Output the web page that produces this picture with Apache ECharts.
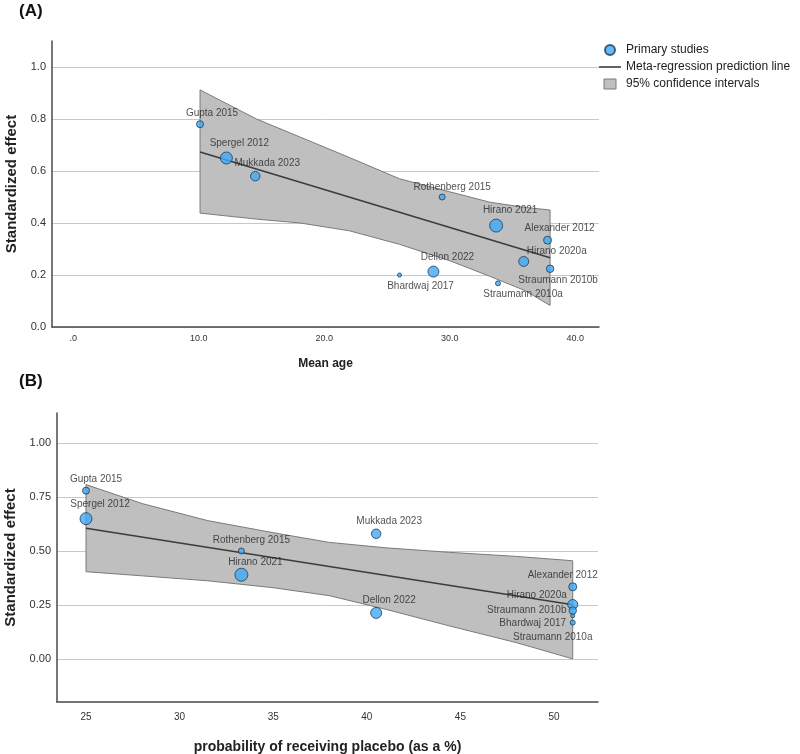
<!DOCTYPE html>
<html>
<head>
<meta charset="utf-8">
<script src="https://cdn.jsdelivr.net/npm/echarts@6/dist/echarts.min.js"></script>
<style>
  html, body { margin: 0; padding: 0; background: #fff; }
  #main { width: 800px; height: 754px; }
</style>
</head>
<body>
<div id="main"></div>
<script>
// study data
var studies = ['Gupta 2015', 'Spergel 2012', 'Mukkada 2023', 'Bhardwaj 2017', 'Rothenberg 2015', 'Hirano 2021',
               'Dellon 2022', 'Alexander 2012', 'Hirano 2020a', 'Straumann 2010b', 'Straumann 2010a'];
var effect = [0.78, 0.65, 0.58, 0.20, 0.50, 0.39, 0.213, 0.334, 0.252, 0.224, 0.168];
var meanAge = [10.1, 12.2, 14.5, 26.0, 29.4, 33.7, 28.7, 37.8, 35.9, 38.0, 33.85];
var placeboPct = [25, 25, 40.5, 51, 33.3, 33.3, 40.5, 51, 51, 51, 51];
var studyWeight = [7, 12, 9.5, 4, 6, 13, 11, 8, 10, 7.5, 5];

// meta-regression line + 95% CI (panel A: mean age)
var fitAgeX = [10.1, 38.0];
var fitAgeY = [0.673, 0.266];
var bandAgeX = [10.1, 14.6, 18.1, 22, 26, 30, 33.2, 36, 38.0];
var bandAgeHigh = [0.912, 0.80, 0.73, 0.652, 0.57, 0.52, 0.48, 0.46, 0.45];
var bandAgeLow = [0.438, 0.415, 0.40, 0.37, 0.318, 0.255, 0.195, 0.14, 0.083];

// panel B: probability of placebo
var fitPlaceboX = [25, 51];
var fitPlaceboY = [0.606, 0.251];
var bandPlaceboX = [25, 28, 31.5, 35, 38, 41, 44.4, 48, 51];
var bandPlaceboHigh = [0.808, 0.72, 0.641, 0.585, 0.54, 0.515, 0.494, 0.475, 0.455];
var bandPlaceboLow = [0.404, 0.385, 0.362, 0.33, 0.293, 0.23, 0.153, 0.075, 0.0];

// tick labels
var ageTicks = [0, 10, 20, 30, 40];
var effectTicksA = [0, 0.2, 0.4, 0.6, 0.8, 1.0];
var placeboTicks = [25, 30, 35, 40, 45, 50];
var effectTicksB = [0, 0.25, 0.5, 0.75, 1.0];

// label offsets (px from point centre), layout only
var labelOffsetA = [[12, -11], [13, -15], [12, -13], [21, 11], [10, -10], [14, -15], [14, -14], [12, -12], [33, -10], [8, 11], [25, 11]];
var labelOffsetB = [[10, -11], [14, -14], [13, -13], [-40, 8], [10, -11], [14, -13], [13, -13], [-10, -12], [-36, -9], [-46, 0], [-20, 15]];

var FONT = 'Liberation Sans, Arial, sans-serif';
var DOT = '#3fa9f5';
var DOT_BORDER = '#1f3b57';

function points(xs, offsets) {
  return studies.map(function (s, i) {
    return {
      name: s,
      value: [xs[i], effect[i], studyWeight[i]],
      label: { offset: offsets[i] }
    };
  });
}

function bandSeries(xs, lo, hi, xi) {
  return {
    name: '95% confidence intervals',
    type: 'custom',
    xAxisIndex: xi,
    yAxisIndex: xi,
    z: 1,
    itemStyle: { color: '#bfbfbf' },
    data: [[xs[0], lo[0]]],
    renderItem: function (params, api) {
      var pts = [];
      for (var i = 0; i < xs.length; i++) pts.push(api.coord([xs[i], hi[i]]));
      for (var j = xs.length - 1; j >= 0; j--) pts.push(api.coord([xs[j], lo[j]]));
      return {
        type: 'polygon',
        shape: { points: pts },
        style: { fill: '#bfbfbf', stroke: '#7a7a7a', lineWidth: 1 }
      };
    }
  };
}

function lineSeries(xs, ys, xi) {
  return {
    name: 'Meta-regression prediction line',
    type: 'line',
    xAxisIndex: xi,
    yAxisIndex: xi,
    z: 2,
    symbol: 'none',
    silent: true,
    lineStyle: { color: '#3c3c3c', width: 1.6 },
    itemStyle: { color: '#3c3c3c' },
    data: xs.map(function (x, i) { return [x, ys[i]]; })
  };
}

function scatterSeries(xs, offsets, xi) {
  return {
    name: 'Primary studies',
    type: 'scatter',
    xAxisIndex: xi,
    yAxisIndex: xi,
    z: 3,
    symbolSize: function (v) { return v[2]; },
    itemStyle: { color: DOT, borderColor: DOT_BORDER, borderWidth: 1 },
    label: {
      show: true,
      position: 'inside',
      formatter: '{b}',
      color: '#262626',
      fontSize: 10,
      fontFamily: FONT
    },
    data: points(xs, offsets)
  };
}

function yAxisCfg(gi, min, max, ticks, digits, gap) {
  return {
    gridIndex: gi,
    type: 'value',
    min: min,
    max: max,
    name: 'Standardized effect',
    nameLocation: 'middle',
    nameGap: gap,
    nameTextStyle: { fontFamily: FONT, fontWeight: 'bold', fontSize: 15, color: '#222' },
    axisLine: { show: true, onZero: false, lineStyle: { color: '#4a4a4a', width: 1.5 } },
    axisTick: { show: false, customValues: ticks },
    axisLabel: {
      customValues: ticks,
      margin: 6,
      fontSize: 11,
      fontFamily: FONT,
      color: '#333',
      formatter: function (v) { return v.toFixed(digits); }
    },
    splitLine: { show: true, lineStyle: { color: '#c8c8c8', width: 1 } }
  };
}

var chart = echarts.init(document.getElementById('main'));
chart.setOption({
  animation: false,
  backgroundColor: '#fff',
  title: [
    { text: '(A)', left: 14, top: -2, textStyle: { fontFamily: FONT, fontSize: 17, fontWeight: 'bold', color: '#111' } },
    { text: '(B)', left: 14, top: 368, textStyle: { fontFamily: FONT, fontSize: 17, fontWeight: 'bold', color: '#111' } }
  ],
  legend: {
    orient: 'vertical',
    left: 599,
    top: 44,
    padding: 0,
    itemWidth: 22,
    itemHeight: 10,
    itemGap: 5,
    textStyle: { fontFamily: FONT, fontSize: 12, color: '#222' },
    data: [
      { name: 'Primary studies', icon: 'circle' },
      { name: 'Meta-regression prediction line', icon: 'path://M0,0 L22,0 L22,1.6 L0,1.6 Z' },
      { name: '95% confidence intervals', icon: 'path://M0,0 L12,0 L12,10 L0,10 Z',
        itemStyle: { color: '#bfbfbf', borderColor: '#7a7a7a', borderWidth: 1 } }
    ]
  },
  grid: [
    { left: 52, top: 41, width: 547, height: 286, outerBoundsMode: 'none' },
    { left: 57, top: 413, width: 541, height: 289, outerBoundsMode: 'none' }
  ],
  xAxis: [
    {
      gridIndex: 0,
      type: 'value',
      min: -1.7,
      max: 41.9,
      name: 'Mean age',
      nameLocation: 'middle',
      nameGap: 31,
      nameTextStyle: { fontFamily: FONT, fontWeight: 'bold', fontSize: 12, color: '#222' },
      axisLine: { onZero: false, lineStyle: { color: '#4a4a4a', width: 1.5 } },
      axisTick: { show: false, customValues: ageTicks },
      axisLabel: {
        customValues: ageTicks,
        margin: 7,
        fontSize: 9,
        fontFamily: FONT,
        color: '#333',
        formatter: function (v) { return v === 0 ? '.0' : v.toFixed(1); }
      },
      splitLine: { show: false }
    },
    {
      gridIndex: 1,
      type: 'value',
      min: 23.45,
      max: 52.35,
      name: 'probability of receiving placebo (as a %)',
      nameLocation: 'middle',
      nameGap: 38,
      nameTextStyle: { fontFamily: FONT, fontWeight: 'bold', fontSize: 14, color: '#222' },
      axisLine: { onZero: false, lineStyle: { color: '#4a4a4a', width: 1.5 } },
      axisTick: { show: false, customValues: placeboTicks },
      axisLabel: {
        customValues: placeboTicks,
        margin: 10,
        fontSize: 10,
        fontFamily: FONT,
        color: '#333'
      },
      splitLine: { show: false }
    }
  ],
  yAxis: [
    yAxisCfg(0, 0, 1.1, effectTicksA, 1, 33),
    yAxisCfg(1, -0.2, 1.14, effectTicksB, 2, 38)
  ],
  series: [
    bandSeries(bandAgeX, bandAgeLow, bandAgeHigh, 0),
    lineSeries(fitAgeX, fitAgeY, 0),
    scatterSeries(meanAge, labelOffsetA, 0),
    bandSeries(bandPlaceboX, bandPlaceboLow, bandPlaceboHigh, 1),
    lineSeries(fitPlaceboX, fitPlaceboY, 1),
    scatterSeries(placeboPct, labelOffsetB, 1)
  ]
});
</script>
</body>
</html>
